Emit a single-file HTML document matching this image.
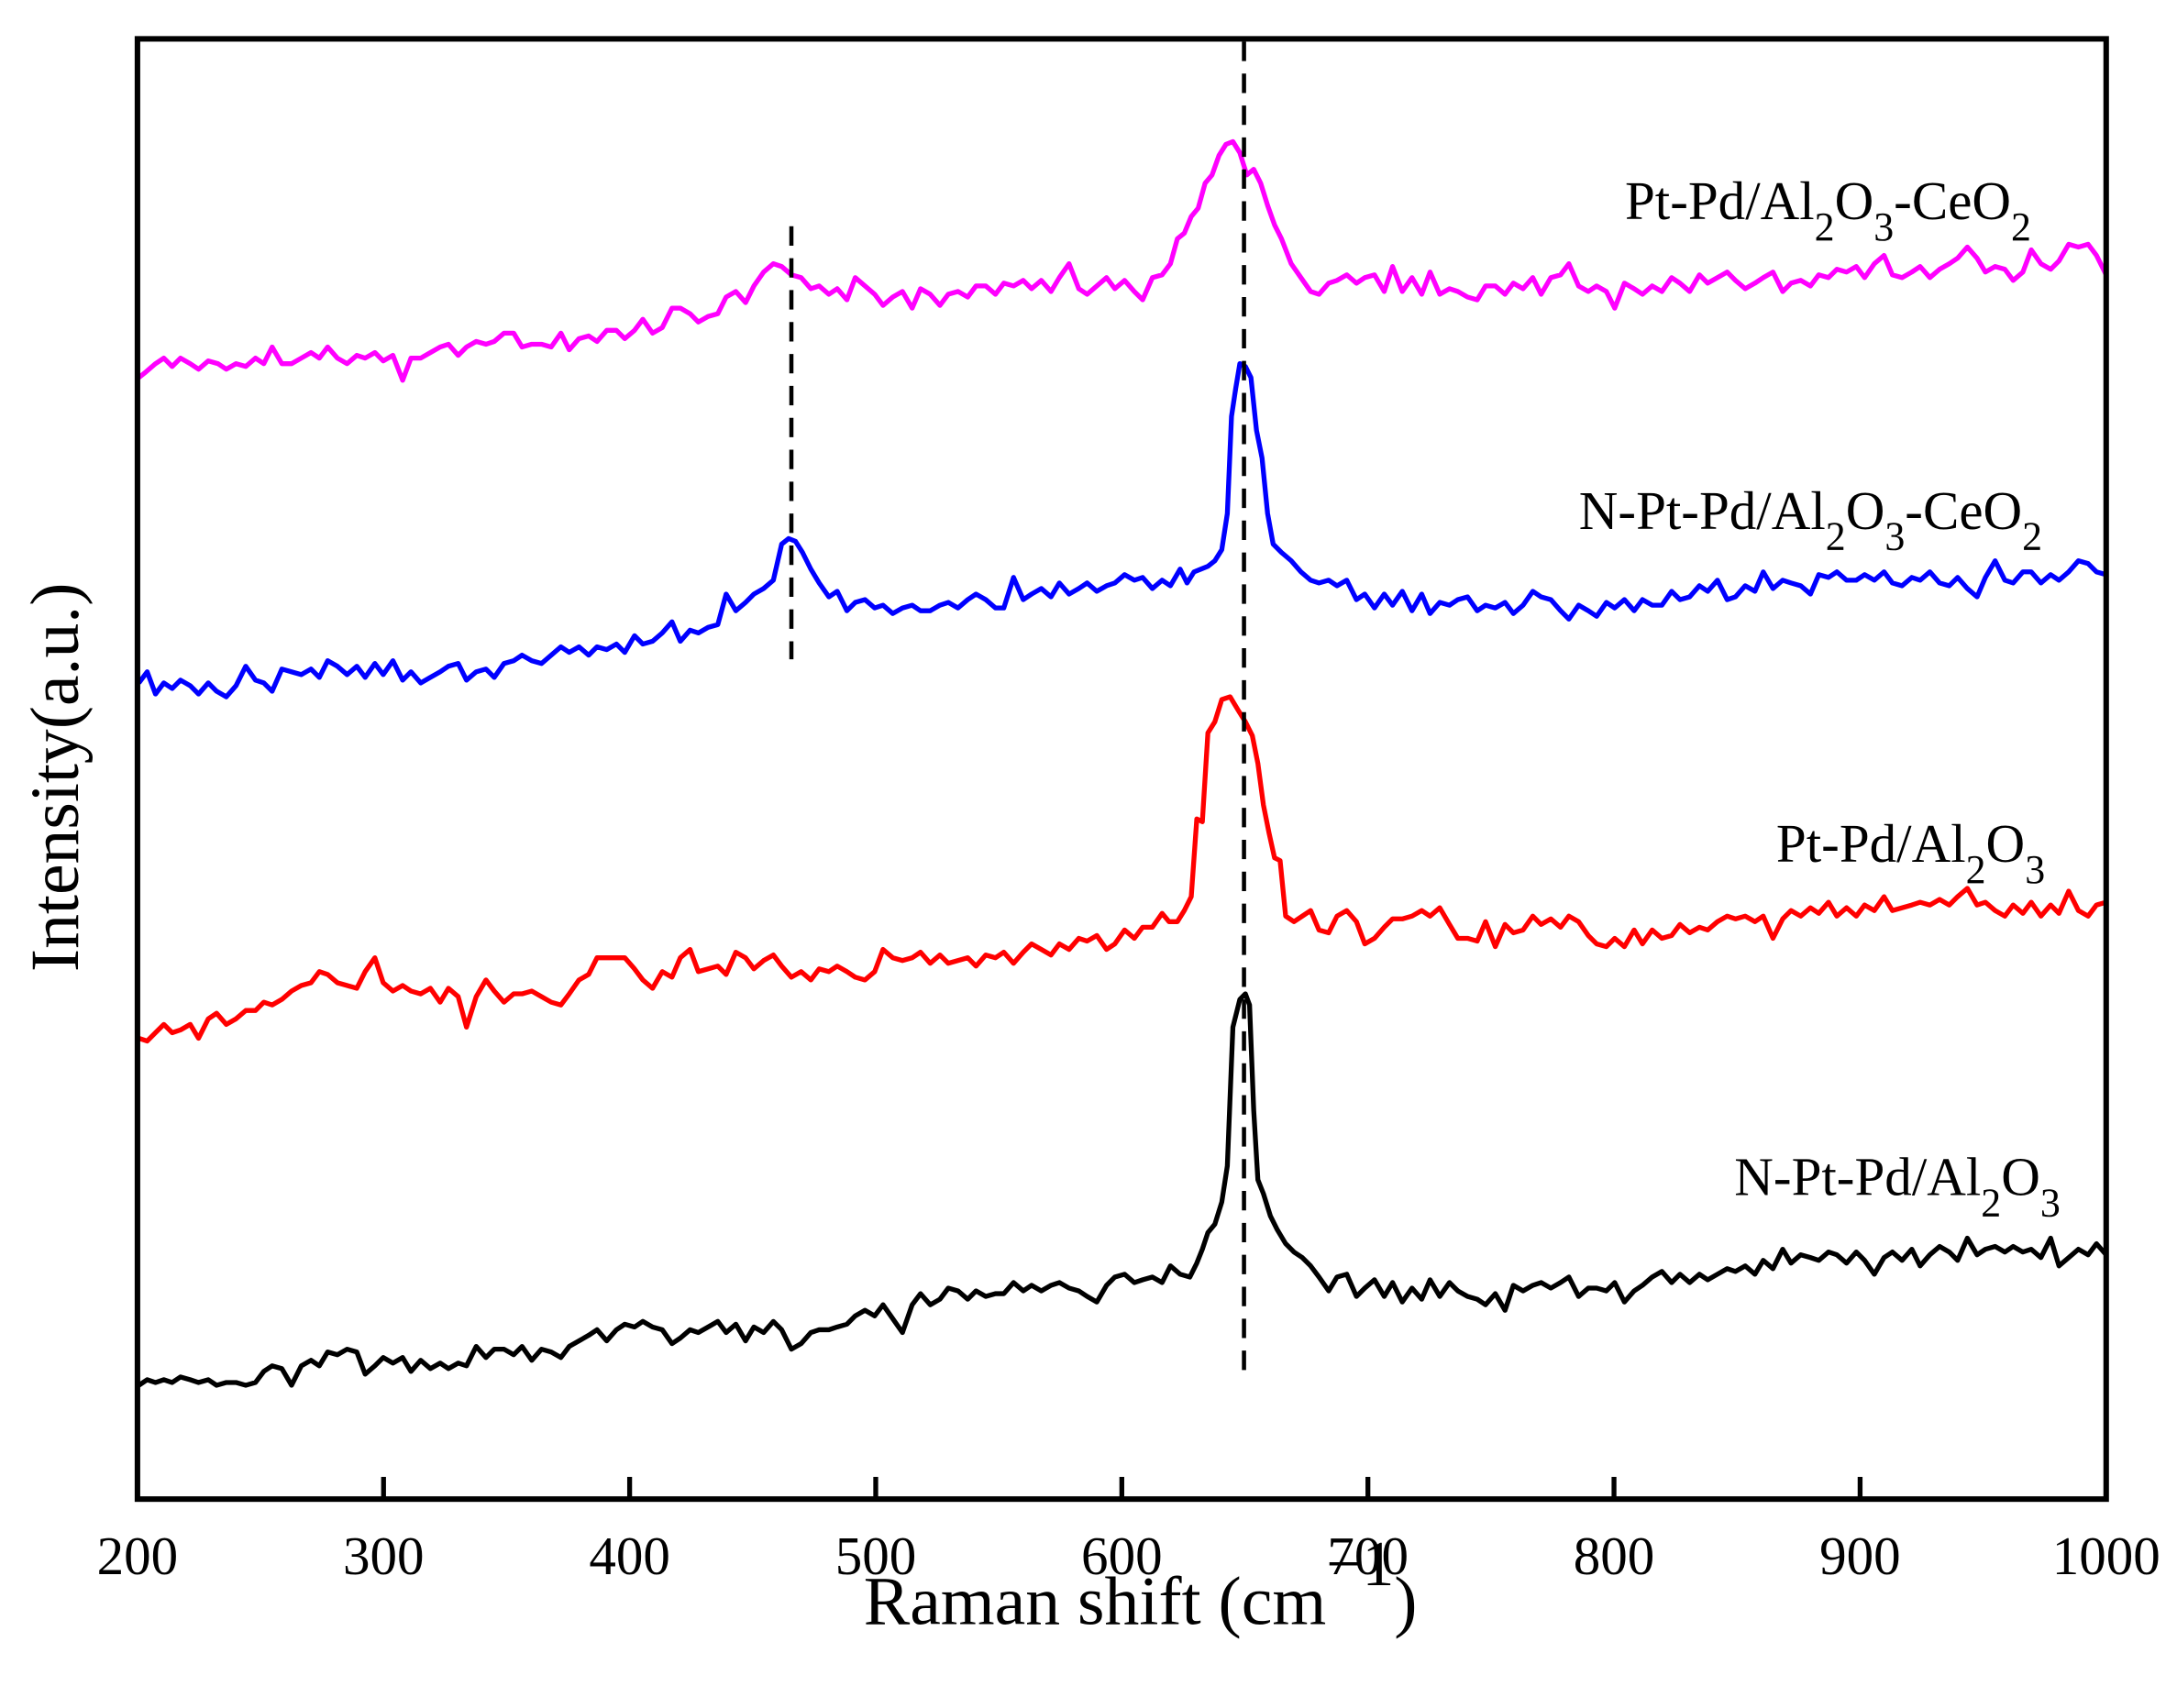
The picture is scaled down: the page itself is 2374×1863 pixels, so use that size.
<!DOCTYPE html>
<html><head><meta charset="utf-8"><style>html,body{margin:0;padding:0;background:#fff}svg{display:block}</style></head>
<body>
<svg width="2374" height="1863" viewBox="0 0 1568 1230.5" xmlns="http://www.w3.org/2000/svg" font-family="'Liberation Serif', serif">
<rect x="0" y="0" width="1568" height="1231" fill="#fff"/>
<g fill="none" stroke-width="3.5" stroke-linejoin="round">
<polyline stroke="#ff00ff" points="100,272 105,268 112,262 118,258 124,264 130,258 137,262 143,266 150,260 157,262 163,266 170,262 177,264 184,258 190,262 196,250 203,262 210,262 217,258 224,254 230,258 236,250 243,258 250,262 257,256 263,258 270,254 276,260 283,256 290,274 296,258 303,258 310,254 317,250 323,248 330,256 336,250 343,246 350,248 356,246 363,240 370,240 376,250 383,248 390,248 397,250 404,240 410,252 417,244 424,242 430,246 437,238 444,238 450,244 457,238 463,230 470,240 477,236 484,222 490,222 497,226 503,232 510,228 517,226 523,214 530,210 537,218 543,206 550,196 557,190 563,192 570,198 577,200 584,208 590,206 597,212 603,208 610,216 616,200 623,206 630,212 636,220 643,214 650,210 657,222 663,208 670,212 677,220 683,212 690,210 697,214 703,206 710,206 717,212 723,204 730,206 737,202 743,208 750,202 757,210 763,200 770,190 777,208 783,212 790,206 797,200 803,208 810,202 817,210 823,216 830,200 837,198 843,190 848,172 853,168 858,156 863,150 868,132 873,126 878,112 883,104 888,102 893,110 898,126 903,122 908,132 913,148 918,162 923,172 930,190 937,200 944,210 950,212 957,204 963,202 970,198 977,204 983,200 990,198 997,210 1003,192 1010,210 1017,200 1024,212 1030,196 1037,212 1044,208 1050,210 1057,214 1064,216 1070,206 1077,206 1084,212 1090,204 1097,208 1104,200 1110,212 1117,200 1124,198 1130,190 1137,206 1144,210 1150,206 1157,210 1163,222 1170,204 1177,208 1183,212 1190,206 1197,210 1204,200 1210,204 1217,210 1224,198 1230,204 1237,200 1244,196 1250,202 1257,208 1264,204 1270,200 1277,196 1284,210 1290,204 1297,202 1304,206 1310,198 1317,200 1323,194 1330,196 1337,192 1343,200 1350,190 1357,184 1363,198 1370,200 1377,196 1383,192 1390,200 1397,194 1404,190 1410,186 1417,178 1424,186 1430,196 1437,192 1444,194 1450,202 1457,196 1463,180 1470,190 1477,194 1483,188 1490,176 1497,178 1504,176 1510,184 1517,198"/>
<polyline stroke="#0000ff" points="100,492 106,484 112,500 118,492 124,496 130,490 137,494 143,500 150,492 156,498 163,502 170,494 177,480 184,490 190,492 196,498 203,482 210,484 217,486 224,482 230,488 236,476 243,480 250,486 257,480 263,488 270,478 276,486 283,476 290,490 296,484 303,492 310,488 317,484 323,480 330,478 336,490 343,484 350,482 356,488 363,478 370,476 376,472 383,476 390,478 397,472 404,466 410,470 417,466 424,472 430,466 437,468 444,464 450,470 457,458 463,464 470,462 477,456 484,448 490,462 497,454 503,456 510,452 517,450 523,428 530,440 537,434 543,428 550,424 557,418 563,392 568,388 573,390 578,398 584,410 590,420 597,430 603,426 610,440 616,434 623,432 630,438 636,436 643,442 650,438 657,436 663,440 670,440 677,436 683,434 690,438 697,432 703,428 710,432 717,438 723,438 730,416 737,432 743,428 750,424 757,430 763,420 770,428 777,424 783,420 790,426 797,422 803,420 810,414 817,418 823,416 830,424 837,418 843,422 850,410 855,420 860,412 865,410 870,408 875,404 880,396 884,370 887,300 890,280 893,262 897,264 901,272 905,310 909,330 913,370 917,392 923,398 930,404 937,412 944,418 950,420 957,418 963,422 970,418 977,432 983,428 990,438 997,428 1003,436 1010,426 1017,440 1024,428 1030,442 1037,434 1044,436 1050,432 1057,430 1064,440 1070,436 1077,438 1084,434 1090,442 1097,436 1104,426 1110,430 1117,432 1124,440 1130,446 1137,436 1144,440 1150,444 1157,434 1163,438 1170,432 1177,440 1183,432 1190,436 1197,436 1204,426 1210,432 1217,430 1224,422 1230,426 1237,418 1244,432 1250,430 1257,422 1264,426 1270,412 1277,424 1284,418 1290,420 1297,422 1304,428 1310,414 1317,416 1323,412 1330,418 1337,418 1343,414 1350,418 1357,412 1363,420 1370,422 1377,416 1383,418 1390,412 1397,420 1404,422 1410,416 1417,424 1424,430 1430,416 1437,404 1444,418 1450,420 1457,412 1463,412 1470,420 1477,414 1483,418 1490,412 1497,404 1504,406 1510,412 1517,414"/>
<polyline stroke="#ff0000" points="100,748 106,750 112,744 118,738 124,744 130,742 137,738 143,748 150,734 156,730 163,738 170,734 177,728 184,728 190,722 196,724 203,720 210,714 217,710 224,708 230,700 236,702 243,708 250,710 257,712 263,700 270,690 276,708 283,714 290,710 296,714 303,716 310,712 317,722 323,712 330,718 336,740 343,718 350,706 356,714 363,722 370,716 376,716 383,714 390,718 397,722 404,724 410,716 417,706 424,702 430,690 437,690 444,690 450,690 457,698 463,706 470,712 477,700 484,704 490,690 497,684 503,700 510,698 517,696 523,702 530,686 537,690 543,698 550,692 557,688 563,696 570,704 577,700 584,706 590,698 597,700 603,696 610,700 616,704 623,706 630,700 636,684 643,690 650,692 657,690 663,686 670,694 677,688 683,694 690,692 697,690 703,696 710,688 717,690 723,686 730,694 737,686 743,680 750,684 757,688 763,680 770,684 777,676 783,678 790,674 797,684 803,680 810,670 817,676 823,668 830,668 837,658 842,664 848,664 853,656 858,646 862,590 866,592 870,528 875,520 880,504 886,502 892,512 897,520 902,530 906,550 910,580 914,600 918,618 922,620 926,660 932,664 938,660 944,656 950,670 957,672 963,660 970,656 977,664 983,680 990,676 997,668 1003,662 1010,662 1017,660 1024,656 1030,660 1037,654 1044,666 1050,676 1057,676 1064,678 1070,664 1077,682 1084,666 1090,672 1097,670 1104,660 1110,666 1117,662 1124,668 1130,660 1137,664 1144,674 1150,680 1157,682 1163,676 1170,682 1177,670 1183,680 1190,670 1197,676 1204,674 1210,666 1217,672 1224,668 1230,670 1237,664 1244,660 1250,662 1257,660 1264,664 1270,660 1277,676 1284,662 1290,656 1297,660 1304,654 1310,658 1317,650 1323,660 1330,654 1337,660 1343,652 1350,656 1357,646 1363,656 1370,654 1377,652 1383,650 1390,652 1397,648 1404,652 1410,646 1417,640 1424,652 1430,650 1437,656 1444,660 1450,652 1457,658 1463,650 1470,660 1477,652 1483,658 1490,642 1497,656 1504,660 1510,652 1517,650"/>
<polyline stroke="#000000" points="100,998 106,994 112,996 118,994 124,996 130,992 137,994 143,996 150,994 156,998 163,996 170,996 177,998 184,996 190,988 196,984 203,986 210,998 217,984 224,980 230,984 236,974 243,976 250,972 257,974 263,990 270,984 276,978 283,982 290,978 296,988 303,980 310,986 317,982 323,986 330,982 336,984 343,970 350,978 356,972 363,972 370,976 376,970 383,980 390,972 397,974 404,978 410,970 417,966 424,962 430,958 437,966 444,958 450,954 457,956 463,952 470,956 477,958 484,968 490,964 497,958 503,960 510,956 517,952 523,960 530,954 537,966 543,956 550,960 557,952 563,958 570,972 577,968 584,960 590,958 597,958 603,956 610,954 616,948 623,944 630,948 636,940 643,950 650,960 657,940 663,932 670,940 677,936 683,928 690,930 697,936 703,930 710,934 717,932 723,932 730,924 737,930 743,926 750,930 757,926 763,924 770,928 777,930 783,934 790,938 797,926 803,920 810,918 817,924 823,922 830,920 837,924 843,912 850,918 857,920 862,910 866,900 870,888 875,882 880,866 884,840 888,740 893,720 897,716 900,724 903,800 906,850 910,860 915,876 920,886 926,896 932,902 938,906 944,912 950,920 957,930 963,920 970,918 977,934 983,928 990,922 997,934 1003,924 1010,938 1017,928 1024,936 1030,922 1037,934 1044,924 1050,930 1057,934 1064,936 1070,940 1077,932 1084,944 1090,926 1097,930 1104,926 1110,924 1117,928 1124,924 1130,920 1137,934 1144,928 1150,928 1157,930 1163,924 1170,938 1177,930 1183,926 1190,920 1197,916 1204,924 1210,918 1217,924 1224,918 1230,922 1237,918 1244,914 1250,916 1257,912 1264,918 1270,908 1277,914 1284,900 1290,910 1297,904 1304,906 1310,908 1317,902 1323,904 1330,910 1337,902 1343,908 1350,918 1357,906 1363,902 1370,908 1377,900 1383,912 1390,904 1397,898 1404,902 1410,908 1417,892 1424,904 1430,900 1437,898 1444,902 1450,898 1457,902 1463,900 1470,906 1477,892 1483,912 1490,906 1497,900 1504,904 1510,896 1517,904"/>
</g>
<line x1="896" y1="30" x2="896" y2="996" stroke="#000" stroke-width="3" stroke-dasharray="14,9"/>
<line x1="570" y1="163" x2="570" y2="475" stroke="#000" stroke-width="3" stroke-dasharray="14,9"/>
<rect x="99" y="28" width="1418" height="1052" fill="none" stroke="#000" stroke-width="4"/>
<g stroke="#000" stroke-width="3.5">
<line x1="276.25" y1="1080" x2="276.25" y2="1064"/><line x1="453.5" y1="1080" x2="453.5" y2="1064"/>
<line x1="630.75" y1="1080" x2="630.75" y2="1064"/><line x1="808" y1="1080" x2="808" y2="1064"/>
<line x1="985.25" y1="1080" x2="985.25" y2="1064"/><line x1="1162.5" y1="1080" x2="1162.5" y2="1064"/>
<line x1="1339.75" y1="1080" x2="1339.75" y2="1064"/>
</g>
<g font-size="39" text-anchor="middle" fill="#000">
<text x="99" y="1134">200</text><text x="276.25" y="1134">300</text><text x="453.5" y="1134">400</text>
<text x="630.75" y="1134">500</text><text x="808" y="1134">600</text><text x="985.25" y="1134">700</text>
<text x="1162.5" y="1134">800</text><text x="1339.75" y="1134">900</text><text x="1517" y="1134">1000</text>
</g>
<text x="622" y="1170" font-size="50" fill="#000">Raman shift (cm<tspan font-size="46" dy="-28">−1</tspan><tspan dy="28">)</tspan></text>
<text transform="translate(56,560) rotate(-90)" font-size="50" text-anchor="middle" fill="#000">Intensity(a.u.)</text>
<g font-size="39" fill="#000" text-anchor="end">
<text x="1463" y="158">Pt-Pd/Al<tspan font-size="29" dy="15">2</tspan><tspan dy="-15">O</tspan><tspan font-size="29" dy="15">3</tspan><tspan dy="-15">-CeO</tspan><tspan font-size="29" dy="15">2</tspan></text>
<text x="1471" y="381">N-Pt-Pd/Al<tspan font-size="29" dy="15">2</tspan><tspan dy="-15">O</tspan><tspan font-size="29" dy="15">3</tspan><tspan dy="-15">-CeO</tspan><tspan font-size="29" dy="15">2</tspan></text>
<text x="1473" y="621">Pt-Pd/Al<tspan font-size="29" dy="15">2</tspan><tspan dy="-15">O</tspan><tspan font-size="29" dy="15">3</tspan></text>
<text x="1484" y="861">N-Pt-Pd/Al<tspan font-size="29" dy="15">2</tspan><tspan dy="-15">O</tspan><tspan font-size="29" dy="15">3</tspan></text>
</g>
</svg>
</body></html>
